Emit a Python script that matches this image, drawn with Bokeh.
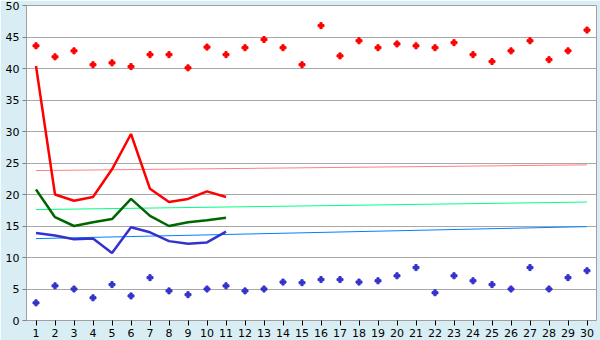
from bokeh.plotting import figure
from bokeh.models import FixedTicker, Range1d
from bokeh.embed import file_html
from bokeh.resources import INLINE

days = list(range(1, 31))
red_points = [43.6, 41.85, 42.8, 40.6, 40.9, 40.3, 42.2, 42.2, 40.1, 43.4,
              42.2, 43.3, 44.6, 43.3, 40.6, 46.8, 42.0, 44.4, 43.3, 43.9,
              43.6, 43.3, 44.1, 42.2, 41.1, 42.8, 44.4, 41.4, 42.8, 46.1]
blue_points = [2.8, 5.5, 5.0, 3.6, 5.7, 3.9, 6.8, 4.7, 4.1, 5.0,
               5.5, 4.7, 5.0, 6.1, 6.0, 6.5, 6.5, 6.1, 6.3, 7.1,
               8.4, 4.4, 7.1, 6.3, 5.7, 5.0, 8.4, 5.0, 6.8, 7.9]
line_days = list(range(1, 12))
red_line = [40.4, 20.0, 19.0, 19.6, 24.0, 29.6, 20.9, 18.8, 19.3, 20.5, 19.6]
green_line = [20.8, 16.4, 15.0, 15.6, 16.1, 19.3, 16.6, 15.0, 15.6, 15.9, 16.3]
blue_line = [13.9, 13.5, 12.9, 13.0, 10.7, 14.8, 14.0, 12.6, 12.2, 12.4, 14.1]
trend_days = [1, 30]
red_trend = [23.8, 24.7]
green_trend = [17.6, 18.8]
blue_trend = [13.0, 14.9]

BG = "#D9EEF4"
FONT = "DejaVu Sans"

p = figure(width=600, height=340, output_backend="svg", toolbar_location=None,
           x_range=Range1d(0.5, 30.5), y_range=Range1d(0, 50),
           min_border_left=26, min_border_right=4, min_border_top=5, min_border_bottom=20)
p.border_fill_color = BG
p.background_fill_color = "white"
p.outline_line_color = "#A0A0A0"
p.outline_line_width = 1

p.xgrid.grid_line_color = None
p.ygrid.grid_line_color = "#A8A8A8"
p.ygrid.grid_line_width = 1

p.yaxis.ticker = FixedTicker(ticks=list(range(0, 51, 5)))
p.xaxis.ticker = FixedTicker(ticks=days)
for ax in (p.xaxis[0], p.yaxis[0]):
    ax.major_label_text_font = FONT
    ax.major_label_text_font_size = "11px"
    ax.major_label_text_color = "#000000"
    ax.minor_tick_line_color = None
    ax.major_tick_in = 0
p.yaxis.axis_line_color = "#A0A0A0"
p.yaxis.major_tick_line_color = "#808080"
p.yaxis.major_tick_out = 4
p.yaxis.major_label_standoff = 3
p.xaxis.axis_line_color = None
p.xaxis.major_tick_line_color = "#000000"
p.xaxis.major_tick_out = 5
p.xaxis.major_label_standoff = 3

p.line(trend_days, red_trend, line_color="#FF8080", line_width=1)
p.line(trend_days, green_trend, line_color="#00FF80", line_width=1)
p.line(trend_days, blue_trend, line_color="#0080FF", line_width=1)

p.line(line_days, red_line, line_color="#FF0000", line_width=2.5)
p.line(line_days, green_line, line_color="#006600", line_width=2.5)
p.line(line_days, blue_line, line_color="#3333CC", line_width=2.5)

p.scatter(days, red_points, marker="plus", size=6, fill_color="#FF0000", line_color="#FF0000")
p.scatter(days, blue_points, marker="plus", size=6, fill_color="#3333CC", line_color="#3333CC")

open("out.html", "w").write(file_html(p, INLINE))
